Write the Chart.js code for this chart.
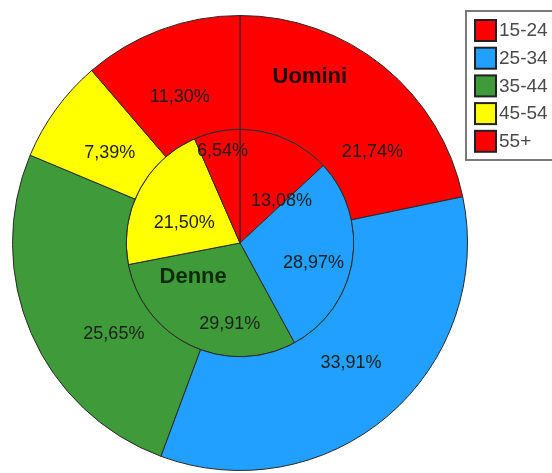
<!DOCTYPE html>
<html><head><meta charset="utf-8">
<script src="https://cdn.jsdelivr.net/npm/chart.js@4.4.1/dist/chart.umd.min.js"></script>
<style>html,body{margin:0;padding:0;background:#fff;overflow:hidden;}</style>
</head><body>
<canvas id="c" width="552" height="473"></canvas>
<script>
// ---- data ----
const categories = ['15-24', '25-34', '35-44', '45-54', '55+'];
const uomini = [21.74, 33.91, 25.65, 7.39, 11.30];
const donne = [13.08, 28.97, 29.91, 21.50, 6.54];
const seriesNames = ['Uomini', 'Denne'];
const sliceColors = ['#ff0000', '#21a0ff', '#3f9b3a', '#ffff00', '#ff0000'];

// label placement tweaks (angle offset in degrees, radial fraction within ring)
const labelTweaks = [
  [{da: 16.5, f: 0.41}, {da: -2, f: 0.44}, {da: -12.5, f: 0.37}, {da: -1.5, f: 0.39}, {da: -2, f: 0.39}],
  [{da: 21, f: 0.52}, {da: 6, f: 0.67}, {da: -18, f: 0.72}, {da: -8, f: 0.52}, {da: 1, f: 0.82}]
];
const FONT = '"Liberation Sans", Arial, sans-serif';

const fmt = v => v.toFixed(2).replace('.', ',') + '%';

const labelPlugin = {
  id: 'labels',
  afterDatasetsDraw(chart) {
    const ctx = chart.ctx;
    ctx.save();
    ctx.textAlign = 'center';
    ctx.textBaseline = 'middle';
    chart.data.datasets.forEach((ds, di) => {
      const meta = chart.getDatasetMeta(di);
      meta.data.forEach((arc, i) => {
        const p = arc.getProps(['x', 'y', 'startAngle', 'endAngle', 'innerRadius', 'outerRadius'], true);
        const t = labelTweaks[di][i];
        const a = (p.startAngle + p.endAngle) / 2 + t.da * Math.PI / 180;
        const r = di === 0 ? p.innerRadius + t.f * (p.outerRadius - p.innerRadius) : t.f * p.outerRadius;
        ctx.font = '18px ' + FONT;
        ctx.fillStyle = '#1e1e1e';
        ctx.fillText(fmt(ds.data[i]), p.x + r * Math.cos(a), p.y + r * Math.sin(a));
      });
    });
    // series titles
    const arc0 = chart.getDatasetMeta(0).data[0];
    const cx = arc0.x, cy = arc0.y, R = arc0.outerRadius;
    ctx.font = 'bold 22px ' + FONT;
    ctx.fillStyle = '#1a0a0a';
    ctx.fillText(seriesNames[0], cx + 0.307 * R, cy - 0.732 * R);
    ctx.fillStyle = '#0f2a0c';
    ctx.fillText(seriesNames[1], cx - 0.206 * R, cy + 0.149 * R);
    ctx.restore();
  },
  afterDraw(chart) {
    const ctx = chart.ctx;
    ctx.save();
    // legend frame
    ctx.strokeStyle = '#7a7a7a';
    ctx.lineWidth = 2;
    ctx.strokeRect(466, 11, 100, 149);
    ctx.font = '19px ' + FONT;
    ctx.textAlign = 'left';
    ctx.textBaseline = 'middle';
    categories.forEach((c, i) => {
      const y = 20 + i * 27.7;
      ctx.fillStyle = sliceColors[i];
      ctx.fillRect(475, y, 21, 21);
      ctx.strokeStyle = '#222';
      ctx.lineWidth = 2;
      ctx.strokeRect(475, y, 21, 21);
      ctx.fillStyle = '#4a4a4a';
      ctx.fillText(c, 499, y + 11);
    });
    ctx.restore();
  }
};

new Chart(document.getElementById('c'), {
  type: 'pie',
  data: {
    labels: categories,
    datasets: [
      {label: seriesNames[0], data: uomini, backgroundColor: sliceColors, borderColor: '#2a2a2a', borderWidth: 1},
      {label: seriesNames[1], data: donne, backgroundColor: sliceColors, borderColor: '#2a2a2a', borderWidth: 1}
    ]
  },
  options: {
    responsive: false,
    devicePixelRatio: 1,
    animation: false,
    layout: {padding: {left: 12, right: 84, top: 15, bottom: 2}},
    plugins: {legend: {display: false}, tooltip: {enabled: false}}
  },
  plugins: [labelPlugin]
});
</script>
</body></html>
